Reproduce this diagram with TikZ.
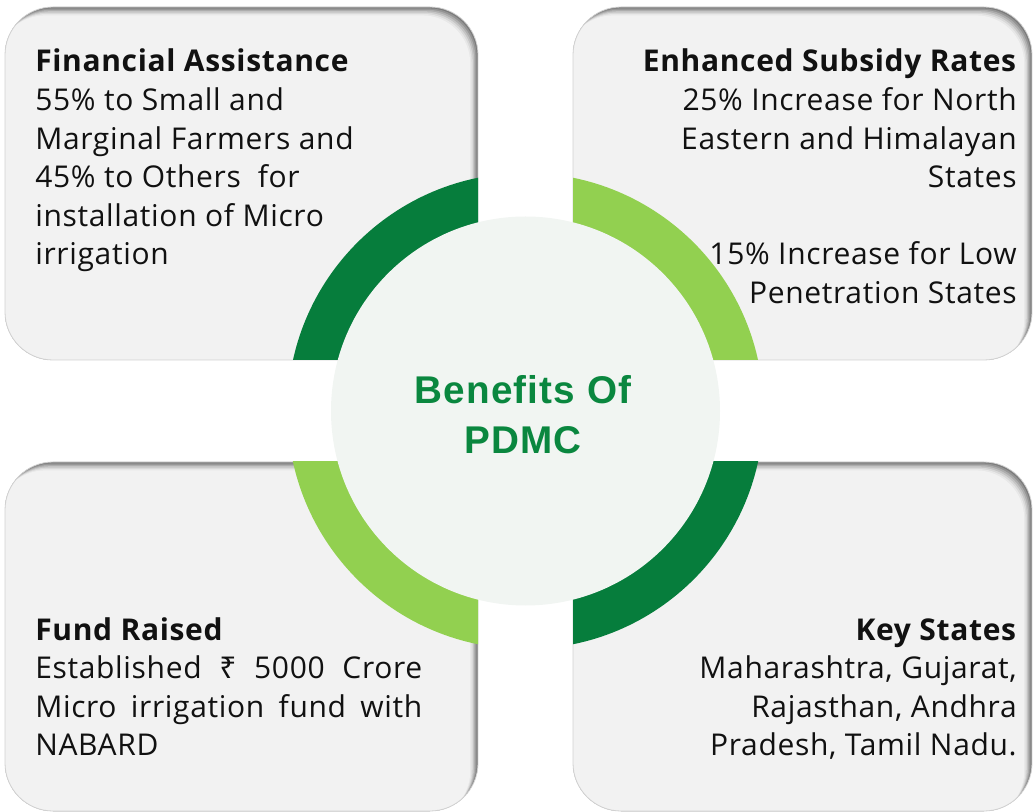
\documentclass[tikz,border=0pt]{standalone}
\usepackage{fontspec}
\setmainfont{Open Sans}[LetterSpace=2.2]
\newfontfamily\rupeefont{Noto Sans}
\newfontfamily\titlefont{Liberation Sans}[LetterSpace=3]
\definecolor{dkgreen}{HTML}{067D3C}
\definecolor{ltgreen}{HTML}{92D050}
\definecolor{circfill}{HTML}{F1F5F2}
\definecolor{titlegreen}{HTML}{0A873F}
\definecolor{ink}{HTML}{111111}
\newcommand\shadedbox[4]{%
  \begin{scope}
    \clip[rounded corners=36pt] (#1,#2) rectangle (#3,#4);
    \foreach \k/\p in {0/52,1/42,2/32,3/23,4/15,5/9,6/5}
      \fill[black!\p, rounded corners=36pt, shift={(-1.3*\k,1.4*\k)}] (#1,#2) rectangle (#3,#4);
  \end{scope}
  \draw[black!18, line width=0.6pt, rounded corners=36pt] (#1,#2) rectangle (#3,#4);
}
\tikzset{
  bodytext/.style={inner sep=0pt, text=ink, font=\fontsize{22.5}{28.9}\selectfont},
  ringseg/.style={even odd rule},
}
\begin{document}
\begin{tikzpicture}[x=0.75pt,y=-0.75pt]
\useasboundingbox (0,0) rectangle (1035,812);
\coordinate (c) at (525.5,411);
% boxes
\shadedbox{5}{7}{478}{360}
\shadedbox{573}{7}{1032}{360}
\shadedbox{5}{462}{478}{811}
\shadedbox{573}{462}{1032}{811}
% ring segments
\begin{scope}
  \clip (0,0) rectangle (478,360);
  \fill[dkgreen, ringseg] (c) circle[radius=238] (c) circle[radius=194];
\end{scope}
\begin{scope}
  \clip (573,0) rectangle (1035,360);
  \fill[ltgreen, ringseg] (c) circle[radius=238] (c) circle[radius=194];
\end{scope}
\begin{scope}
  \clip (0,462) rectangle (478,812);
  \fill[ltgreen, ringseg] (c) circle[radius=238] (c) circle[radius=194];
\end{scope}
\begin{scope}
  \clip (573,462) rectangle (1035,812);
  \fill[dkgreen, ringseg] (c) circle[radius=238] (c) circle[radius=194];
\end{scope}
% centre circle
\fill[circfill] (c) circle[radius=194.5];
\node[font=\titlefont\bfseries\fontsize{29}{37.5}\selectfont, text=titlegreen, align=center] (title) at (523,415) {Benefits Of\\PDMC};
% texts
\node[bodytext, anchor=base west] (fa) at (35,72) {\begin{tabular}[t]{@{}l@{}}\textbf{Financial Assistance}\\55\% to Small and\\Marginal Farmers and\\45\% to Others\ \ for\\installation of Micro\\irrigation\end{tabular}};
\node[bodytext, anchor=base east] (es) at (1017,72) {\begin{tabular}[t]{@{}r@{}}\textbf{Enhanced Subsidy Rates}\\25\% Increase for North\\Eastern and Himalayan\\States\\ \\15\% Increase for Low\\Penetration States\end{tabular}};
\node[bodytext, anchor=base west] (fr) at (35,640) {\begin{tabular}[t]{@{}l@{}}\textbf{Fund Raised}\\\makebox[290.25pt][s]{Established {\rupeefont ₹} 5000 Crore}\\\makebox[290.25pt][s]{Micro irrigation fund with}\\NABARD\end{tabular}};
\node[bodytext, anchor=base east] (ks) at (1017,640) {\begin{tabular}[t]{@{}r@{}}\textbf{Key States}\\Maharashtra, Gujarat,\\Rajasthan, Andhra\\Pradesh, Tamil Nadu.\end{tabular}};
\end{tikzpicture}
\end{document}
